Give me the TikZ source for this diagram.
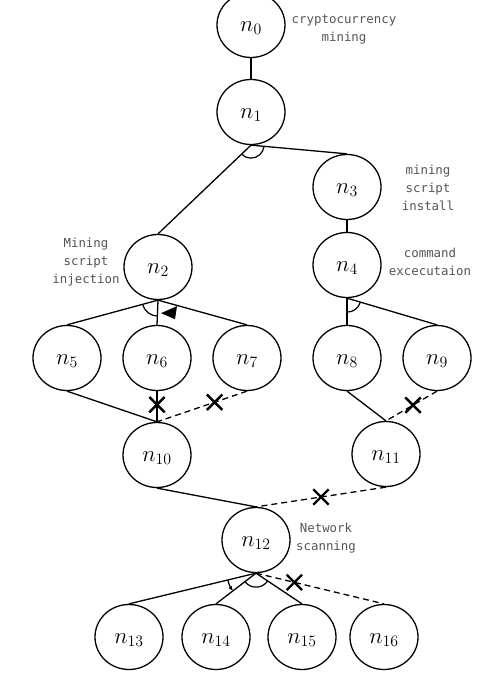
\documentclass[tikz,border=0pt]{standalone}
\usepackage{fontspec}
\newfontfamily\notefont{DejaVu Sans Mono}
\usetikzlibrary{shapes.geometric,shapes.misc,arrows.meta}
\definecolor{notegray}{RGB}{85,85,85}
% state label: n with index, set a little low in its circle
\newcommand\stlabel[1]{\raisebox{-3pt}[\height][\depth]{\scalebox{1.1}{$n_{#1}$}}}
\begin{document}
\begin{tikzpicture}[x=1pt,y=-1pt,
  state/.style={ellipse,draw,line width=1.3pt,minimum width=68pt,minimum height=65pt,
    inner sep=0pt,font=\fontsize{20.74}{24}\selectfont},
  note/.style={text=notegray,font=\notefont\fontsize{12.4}{18}\selectfont,align=center,inner sep=0pt},
  link/.style={line width=1.3pt},
  cut/.style={link,dash pattern=on 6pt off 4pt},
  xmark/.style={cross out,draw,solid,line width=2.4pt,minimum size=13pt,inner sep=0pt},
  andarc/.style={line width=1.2pt}]

% canvas
\fill[white] (0,0) rectangle (481,684);
\useasboundingbox (0,0) rectangle (481,684);

% states
\node[state] (n0)  at (251,25)  {\stlabel{0}};
\node[state] (n1)  at (251,112) {\stlabel{1}};
\node[state] (n2)  at (158,267) {\stlabel{2}};
\node[state] (n3)  at (347,187) {\stlabel{3}};
\node[state] (n4)  at (347,265) {\stlabel{4}};
\node[state] (n5)  at (67,358)  {\stlabel{5}};
\node[state] (n6)  at (157,358) {\stlabel{6}};
\node[state] (n7)  at (247,358) {\stlabel{7}};
\node[state] (n8)  at (347,358) {\stlabel{8}};
\node[state] (n9)  at (437,358) {\stlabel{9}};
\node[state] (n10) at (157,455) {\stlabel{10}};
\node[state] (n11) at (386,454) {\stlabel{11}};
\node[state] (n12) at (256,540) {\stlabel{12}};
\node[state] (n13) at (129,637) {\stlabel{13}};
\node[state] (n14) at (216,637) {\stlabel{14}};
\node[state] (n15) at (302,637) {\stlabel{15}};
\node[state] (n16) at (384,637) {\stlabel{16}};

% annotations
\node[note] (t0)  at (344,29)  {cryptocurrency\\mining};
\node[note] (t3)  at (428,188) {mining\\script\\install};
\node[note] (t4)  at (430,262) {command\\excecutaion};
\node[note] (t2)  at (86,262)  {Mining\\script\\injection};
\node[note] (t12) at (326,538) {Network\\scanning};

% connectors
\draw[link] (n0.south) -- (n1.north);
\draw[link] (n1.south) -- (n2.north);
\draw[link] (n1.south) -- (n3.north);
\draw[link] (n3.south) -- (n4.north);
\draw[link] (n2.south) -- (n5.north);
\draw[link] (n2.south) -- (n6.north);
\draw[link] (n2.south) -- (n7.north);
\draw[link] (n4.south) -- (n8.north);
\draw[link] (n4.south) -- (n9.north);
\draw[link] (n5.south) -- (n10.north);
\draw[link] (n6.south) -- node[xmark,pos=0.44] (x1) {} (n10.north);
\draw[cut]  (n7.south) -- node[xmark,pos=0.36] (x2) {} (n10.north);
\draw[link] (n8.south) -- (n11.north);
\draw[cut]  (n9.south) -- node[xmark,pos=0.47] (x3) {} (n11.north);
\draw[link] (n10.south) -- (n12.north);
\draw[cut]  (n11.south) -- node[xmark,pos=0.5] (x4) {} (n12.north);
\draw[link] (n12.south) -- (n13.north);
\draw[link] (n12.south) -- (n14.north);
\draw[link] (n12.south) -- (n15.north);
\draw[cut]  (n12.south) -- node[xmark,pos=0.3] (x5) {} (n16.north);

% AND / ordering arcs
\draw[andarc] (n1.south) ++(136:13) arc[start angle=136,end angle=6,radius=13];
\draw[andarc] (n2.south) ++(164:16) arc[start angle=164,end angle=92,radius=16];
\fill (n2.south) ++(3,13) -- ++(16,-7) -- ++(-2,13) -- cycle;
\draw[andarc] (n4.south) ++(90:14) arc[start angle=90,end angle=17,radius=14];
\draw[andarc,-{Latex[length=5pt,width=4pt]}] (n12.south) ++(166:29) arc[start angle=166,end angle=142,radius=29];
\draw[andarc] (n12.south) ++(141:14) arc[start angle=141,end angle=35,radius=14];
\end{tikzpicture}
\end{document}
